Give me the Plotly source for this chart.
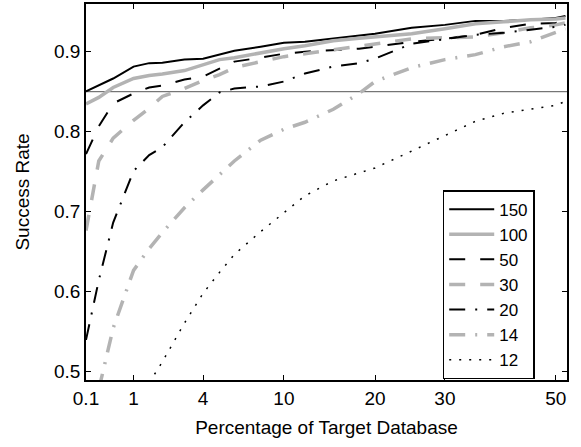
import numpy as np
import plotly.graph_objects as go

# ---- data (percent of target database vs success rate) ----
pct = [0.1, 0.25, 0.5, 1, 1.5, 2, 3, 4, 5, 6, 8, 10, 12, 15, 18, 20, 25, 30, 35, 40, 45, 50, 52]
pct_14 = [0.25, 0.5, 1, 1.5, 2, 3, 4, 5, 6, 8, 10, 12, 15, 18, 20, 25, 30, 35, 40, 45, 50, 52]
pct_12 = [1.5, 2, 3, 4, 5, 6, 8, 10, 12, 15, 18, 20, 25, 30, 35, 40, 45, 50, 52]

s150 = [0.8503, 0.8578, 0.8665, 0.8814, 0.8857, 0.8863, 0.8901, 0.8913, 0.8963, 0.9012, 0.9062, 0.9112,
        0.9124, 0.9161, 0.9199, 0.9224, 0.9298, 0.9335, 0.9385, 0.9385, 0.9398, 0.9422, 0.9447]
s100 = [0.8348, 0.8429, 0.8553, 0.8665, 0.8702, 0.8720, 0.8764, 0.8839, 0.8901, 0.8925, 0.8988, 0.9037,
        0.9075, 0.9137, 0.9168, 0.9186, 0.9224, 0.9286, 0.9348, 0.9373, 0.9398, 0.9410, 0.9422]
s50 = [0.7720, 0.8068, 0.8354, 0.8478, 0.8553, 0.8578, 0.8652, 0.8689, 0.8789, 0.8876, 0.8925, 0.8975,
       0.9000, 0.9018, 0.9037, 0.9062, 0.9124, 0.9161, 0.9211, 0.9298, 0.9348, 0.9360, 0.9385]
s30 = [0.6764, 0.7634, 0.7919, 0.8143, 0.8292, 0.8441, 0.8540, 0.8640, 0.8714, 0.8801, 0.8876, 0.8938,
       0.8975, 0.9025, 0.9075, 0.9099, 0.9161, 0.9174, 0.9186, 0.9236, 0.9298, 0.9335, 0.9360]
s20 = [0.5398, 0.6143, 0.6864, 0.7509, 0.7708, 0.7807, 0.8118, 0.8329, 0.8491, 0.8540, 0.8565, 0.8627,
       0.8727, 0.8814, 0.8857, 0.8913, 0.9099, 0.9161, 0.9211, 0.9236, 0.9273, 0.9311, 0.9335]
s14 = [0.4780, 0.5546, 0.6267, 0.6540, 0.6739, 0.7050, 0.7273, 0.7460, 0.7634, 0.7894, 0.8031, 0.8118,
       0.8280, 0.8478, 0.8627, 0.8801, 0.8901, 0.8963, 0.9062, 0.9124, 0.9248, 0.9286]
s12 = [0.4863, 0.5124, 0.5609, 0.5981, 0.6242, 0.6466, 0.6752, 0.6988, 0.7199, 0.7385, 0.7484, 0.7547,
       0.7758, 0.7957, 0.8130, 0.8230, 0.8280, 0.8329, 0.8379]

threshold = 0.85
x_ticks = [0.1, 1, 4, 10, 20, 30, 50]
x_ticktext = ["0.1", "1", "4", "10", "20", "30", "50"]
y_ticks = [0.5, 0.6, 0.7, 0.8, 0.9]

GRAY = "#b3b3b3"
BLACK = "#000000"

series = [
    ("150", pct, s150, BLACK, 2, "solid"),
    ("100", pct, s100, GRAY, 3.5, "solid"),
    ("50", pct, s50, BLACK, 2, "16px,15px"),
    ("30", pct, s30, GRAY, 3.5, "16px,15px"),
    ("20", pct, s20, BLACK, 2, "16px,10px,2px,10px"),
    ("14", pct_14, s14, GRAY, 3.5, "16px,10px,2px,10px"),
    ("12", pct_12, s12, BLACK, 1.5, "2px,8px"),
]

def sq(v):
    return np.sqrt(np.asarray(v, dtype=float))

FONT = "Liberation Sans, Arial, Helvetica, sans-serif"

fig = go.Figure()
for name, xs, ys, col, w, dash in series:
    fig.add_trace(go.Scatter(x=sq(xs), y=ys, mode="lines", name=name,
                             line=dict(color=col, width=w, dash=dash)))

fig.add_hline(y=threshold, line=dict(color="#555555", width=1), layer="below")

fig.update_layout(
    width=581, height=447,
    margin=dict(l=86, r=14, t=2, b=67),
    paper_bgcolor="white", plot_bgcolor="white",
    font=dict(family=FONT, size=19, color="black"),
    showlegend=True,
    legend=dict(x=0.7416, y=0.505, xanchor="left", yanchor="top",
                bordercolor="black", borderwidth=1.5, bgcolor="white",
                font=dict(size=17), tracegroupgap=0, itemwidth=45),
)
fig.update_xaxes(
    range=[float(np.sqrt(0.1)), 7.233],
    tickvals=sq(x_ticks), ticktext=x_ticktext,
    ticks="inside", ticklen=5, tickcolor="black", mirror="ticks",
    showline=True, linecolor="black", linewidth=1.5,
    showgrid=False, zeroline=False,
    title=dict(text="Percentage of Target Database", font=dict(size=19), standoff=13),
)
fig.update_yaxes(
    range=[0.4897, 0.9596],
    tickvals=y_ticks, tickformat=".1f",
    ticks="inside", ticklen=5, tickcolor="black", mirror="ticks",
    showline=True, linecolor="black", linewidth=1.5,
    showgrid=False, zeroline=False,
    title=dict(text="Success Rate", font=dict(size=19), standoff=19),
)

fig.write_html("out.html", config={"displayModeBar": False},
               post_script="document.body.style.margin='0';document.body.style.padding='0';")
